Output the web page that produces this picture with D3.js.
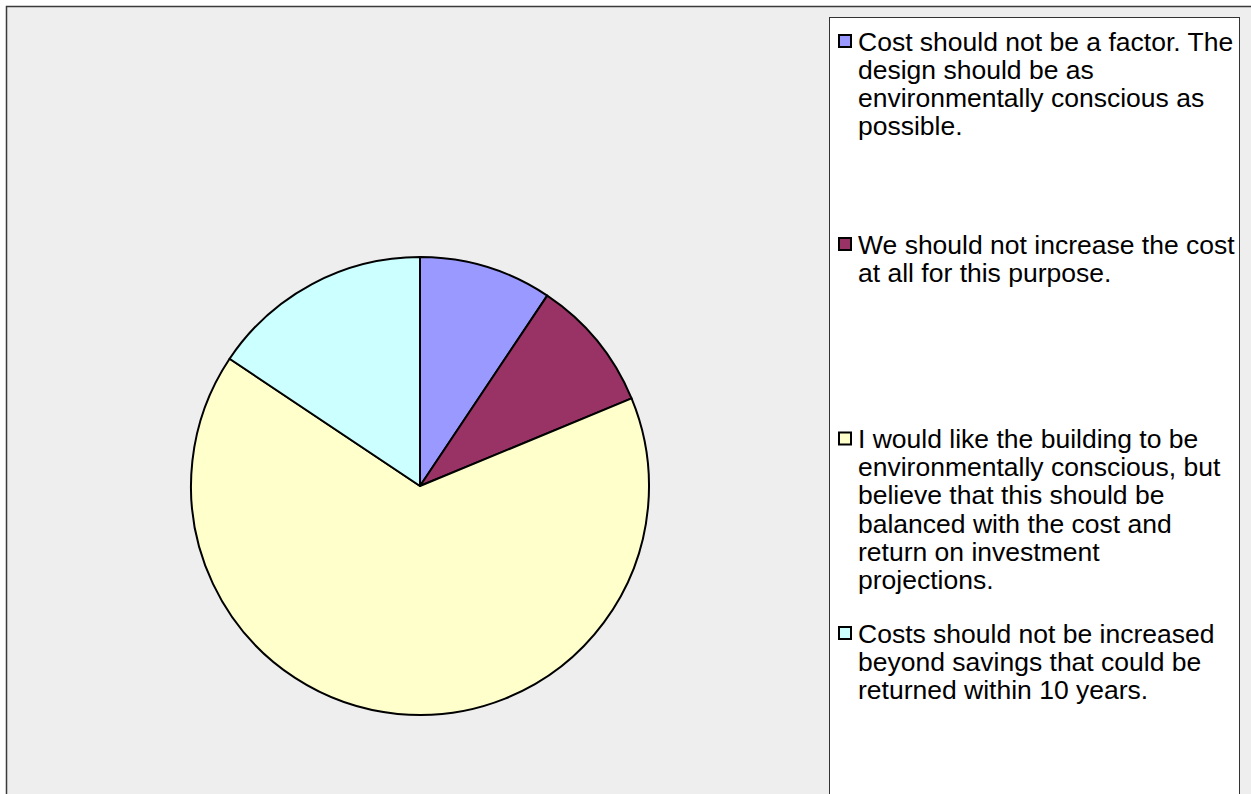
<!DOCTYPE html>
<html>
<head>
<meta charset="utf-8">
<script src="https://cdn.jsdelivr.net/npm/d3@7"></script>
<style>
  body { margin: 0; background: #ffffff; }
  svg { display: block; }
</style>
</head>
<body>
<div id="vis"></div>
<script>
// data (counts out of 32 responses)
const CATEGORIES = [
  "Cost should not be a factor. The design should be as environmentally conscious as possible.",
  "We should not increase the cost at all for this purpose.",
  "I would like the building to be environmentally conscious, but believe that this should be balanced with the cost and return on investment projections.",
  "Costs should not be increased beyond savings that could be returned within 10 years."
];
const VALUES = [3, 3, 21, 5];
const COLORS = ["#9999FF", "#993366", "#FFFFCC", "#CCFFFF"];
// legend text as wrapped in the original
const LEGEND_LINES = [
  ["Cost should not be a factor. The", "design should be as", "environmentally conscious as", "possible."],
  ["We should not increase the cost", "at all for this purpose."],
  ["I would like the building to be", "environmentally conscious, but", "believe that this should be", "balanced with the cost and", "return on investment", "projections."],
  ["Costs should not be increased", "beyond savings that could be", "returned within 10 years."]
];

const FRAME_WIDTH = 1251;
const FRAME_HEIGHT = 794;
const CENTER = {x: 420, y: 486};
const RADIUS = 229;
const LEGEND = {x: 829, y: 17, width: 410, lineHeight: 28.2};
const LEGEND_TOP = [50.5, 253.5, 448, 642.5]; // baseline of first line per item

const FRAME = d3.select("#vis")
  .append("svg")
    .attr("width", FRAME_WIDTH)
    .attr("height", FRAME_HEIGHT);

// chart background + frame
FRAME.append("rect")
  .attr("x", 6.5).attr("y", 6.5)
  .attr("width", FRAME_WIDTH + 20).attr("height", FRAME_HEIGHT + 20)
  .attr("fill", "#EEEEEE")
  .attr("stroke", "#3a3a3a")
  .attr("stroke-width", 1.5);

const data = CATEGORIES.map((c, i) => ({name: c, value: VALUES[i], color: COLORS[i]}));

const pie = d3.pie().sort(null).value(d => d.value);
const arc = d3.arc().innerRadius(0).outerRadius(RADIUS);

FRAME.append("g")
  .attr("transform", "translate(" + CENTER.x + "," + CENTER.y + ")")
  .selectAll("path")
  .data(pie(data))
  .enter()
  .append("path")
    .attr("d", arc)
    .attr("fill", d => d.data.color)
    .attr("stroke", "#000")
    .attr("stroke-width", 2)
    .attr("stroke-linejoin", "round");

// legend
FRAME.append("rect")
  .attr("x", LEGEND.x + 0.5).attr("y", LEGEND.y + 0.5)
  .attr("width", LEGEND.width).attr("height", FRAME_HEIGHT)
  .attr("fill", "#ffffff")
  .attr("stroke", "#333333")
  .attr("stroke-width", 1);

const items = FRAME.append("g").selectAll("g")
  .data(data)
  .enter()
  .append("g")
    .attr("transform", (d, i) => "translate(0," + LEGEND_TOP[i] + ")");

items.append("rect")
  .attr("x", 839).attr("y", -15.5)
  .attr("width", 12).attr("height", 12)
  .attr("fill", d => d.color)
  .attr("stroke", "#000")
  .attr("stroke-width", 2);

items.append("text")
  .attr("font-family", "'Liberation Sans', Arial, sans-serif")
  .attr("font-size", "26.5px")
  .attr("fill", "#000")
  .selectAll("tspan")
  .data((d, i) => LEGEND_LINES[i])
  .enter()
  .append("tspan")
    .attr("x", 858)
    .attr("y", (d, j) => j * LEGEND.lineHeight)
    .text(d => d);
</script>
</body>
</html>
